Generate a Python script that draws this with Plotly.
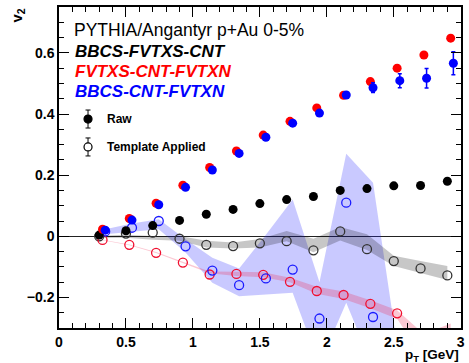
import plotly.graph_objects as go

# ---------------- data ----------------
pt = [0.3, 0.5, 0.7, 0.9, 1.1, 1.3, 1.5, 1.7, 1.9, 2.1, 2.3, 2.5, 2.7, 2.9]
x_tick_vals = [0, 0.5, 1, 1.5, 2, 2.5, 3]
x_tick_text = ["0", "0.5", "1", "1.5", "2", "2.5", "3"]

raw_black = [0.004, 0.018, 0.035, 0.052, 0.072, 0.088, 0.107, 0.120, 0.130, 0.150, 0.156, 0.165, 0.166, 0.180]
raw_red = [0.023, 0.058, 0.108, 0.167, 0.225, 0.279, 0.331, 0.376, 0.420, 0.461, 0.506, 0.550, 0.593, 0.648]
raw_blue = [0.020, 0.053, 0.103, 0.160, 0.217, 0.271, 0.324, 0.370, 0.403, 0.462, 0.486, 0.509, 0.517, 0.566]
raw_blue_err = [0.003, 0.003, 0.004, 0.004, 0.005, 0.005, 0.006, 0.007, 0.008, 0.010, 0.016, 0.023, 0.032, 0.038]

tmpl_black = [0.0, 0.009, 0.012, -0.008, -0.028, -0.032, -0.023, -0.016, -0.046, 0.016, -0.042, -0.081, -0.105, -0.128]
tmpl_red = [-0.012, -0.028, -0.054, -0.086, -0.125, -0.123, -0.126, -0.149, -0.179, -0.192, -0.221, -0.252, -0.36, -0.34]
tmpl_blue = [0.016, 0.028, 0.050, -0.033, -0.112, -0.160, -0.138, -0.109, -0.269, 0.110, -0.264]

gray_lo = [-0.006, -0.005, -0.011, -0.015, -0.037, -0.040, -0.037, -0.016, -0.052, -0.014, -0.045, -0.097, -0.119, -0.143]
gray_hi = [0.002, 0.005, 0.001, 0.001, -0.015, -0.020, -0.009, 0.017, -0.008, 0.030, 0.007, -0.064, -0.081, -0.097]

red_lo = [-0.013, -0.029, -0.055, -0.088, -0.121, -0.130, -0.134, -0.150, -0.188, -0.205, -0.235, -0.270, -0.40, -0.375]
red_hi = [-0.011, -0.027, -0.051, -0.084, -0.115, -0.116, -0.118, -0.136, -0.165, -0.181, -0.209, -0.242, -0.32, -0.285]

blue_hi = [0.023, 0.042, 0.056, -0.010, -0.070, -0.105, 0.005, 0.120, -0.150, 0.270, 0.175, -0.415]
blue_lo = [0.007, 0.014, 0.023, -0.053, -0.152, -0.196, -0.190, -0.185, -0.420, -0.217, -0.430, -0.600]

title_lines = ["PYTHIA/Angantyr p+Au 0-5%", "BBCS-FVTXS-CNT", "FVTXS-CNT-FVTXN", "BBCS-CNT-FVTXN"]
legend_labels = ["Raw", "Template Applied"]

# ---------------- style ----------------
OFF_RED = 0.025
OFF_BLUE = 0.045
FONT = "Liberation Sans, Arial, sans-serif"

x_black = list(pt)
x_red = [p + OFF_RED for p in pt]
x_blue = [p + OFF_BLUE for p in pt]

fig = go.Figure()


def band(xs, lo, hi, color):
    n = min(len(xs), len(lo))
    xs = xs[:n]
    return go.Scatter(x=xs + xs[::-1], y=list(hi[:n]) + list(lo[:n])[::-1],
                      fill="toself", fillcolor=color, line=dict(width=0),
                      mode="lines", hoverinfo="skip", showlegend=False)


fig.add_trace(band(x_blue, blue_lo, blue_hi, "rgba(40,40,255,0.25)"))
fig.add_trace(band(x_black, gray_lo, gray_hi, "rgba(0,0,0,0.22)"))
fig.add_trace(band(x_red, red_lo, red_hi, "rgba(240,40,80,0.26)"))

MS = 9
fig.add_trace(go.Scatter(x=x_black, y=tmpl_black, mode="markers",
                         marker=dict(symbol="circle-open", size=MS, color="#333333", line=dict(width=1.3)),
                         showlegend=False))
fig.add_trace(go.Scatter(x=x_red, y=tmpl_red, mode="markers",
                         marker=dict(symbol="circle-open", size=MS, color="#f01030", line=dict(width=1.3)),
                         showlegend=False))
fig.add_trace(go.Scatter(x=x_blue[:len(tmpl_blue)], y=tmpl_blue, mode="markers",
                         marker=dict(symbol="circle-open", size=MS, color="#1a1aff", line=dict(width=1.3)),
                         showlegend=False))

fig.add_trace(go.Scatter(x=x_black, y=raw_black, mode="markers",
                         marker=dict(symbol="circle", size=MS, color="black"), showlegend=False))
fig.add_trace(go.Scatter(x=x_red, y=raw_red, mode="markers",
                         marker=dict(symbol="circle", size=MS, color="#ff0000"), showlegend=False))
fig.add_trace(go.Scatter(x=x_blue, y=raw_blue, mode="markers",
                         marker=dict(symbol="circle", size=MS, color="#0000ff"),
                         error_y=dict(type="data", array=raw_blue_err, color="#0000ff", thickness=1.5, width=2),
                         showlegend=False))

# ---------------- axes ----------------
fig.update_xaxes(range=[0, 3.002], tickmode="array", tickvals=x_tick_vals, ticktext=x_tick_text,
                 ticks="inside", ticklen=10, tickwidth=1,
                 tickcolor="black", mirror="allticks", showline=True, linewidth=1.5, linecolor="black",
                 showgrid=False, zeroline=False, ticklabeloverflow="allow",
                 tickfont=dict(family=FONT, size=14, color="black", weight="bold"),
                 minor=dict(tickmode="linear", tick0=0, dtick=0.1, ticklen=5, ticks="inside",
                            tickcolor="black", showgrid=False))
fig.update_yaxes(range=[-0.3, 0.75], dtick=0.2, tick0=0, ticks="inside", ticklen=10, tickwidth=1,
                 tickcolor="black", mirror="allticks", showline=True, linewidth=1.5, linecolor="black",
                 showgrid=False, zeroline=True, zerolinecolor="#222222", zerolinewidth=1.3,
                 tickfont=dict(family=FONT, size=14, color="black", weight="bold"),
                 minor=dict(dtick=0.05, ticklen=5, ticks="inside", tickcolor="black", showgrid=False))

# ---------------- text ----------------
ann = []
ann.append(dict(text=title_lines[0], x=0.032, y=0.928, xref="paper", yref="paper", xanchor="left",
                yanchor="middle", showarrow=False, font=dict(family=FONT, size=17.5, color="black")))
for txt, col, yy in [(title_lines[1], "black", 0.860), (title_lines[2], "#ff0000", 0.798),
                     (title_lines[3], "#0000ff", 0.738)]:
    ann.append(dict(text="<b><i>" + txt + "</i></b>", x=0.034, y=yy, xref="paper", yref="paper",
                    xanchor="left", yanchor="middle", showarrow=False,
                    font=dict(family=FONT, size=17, color=col)))
for txt, yy in [(legend_labels[0], 0.651), (legend_labels[1], 0.564)]:
    ann.append(dict(text="<b>" + txt + "</b>", x=0.115, y=yy, xref="paper", yref="paper",
                    xanchor="left", yanchor="middle", showarrow=False,
                    font=dict(family=FONT, size=12, color="black")))
ann.append(dict(text="<b>v<sub>2</sub></b>", x=-0.103, y=0.972, xref="paper", yref="paper",
                xanchor="center", yanchor="middle", textangle=-90, showarrow=False,
                font=dict(family=FONT, size=15, color="black")))
ann.append(dict(text="<b>p<sub>T</sub> [GeV]</b>", x=1.0, y=-0.054, xref="paper", yref="paper",
                xanchor="right", yanchor="top", showarrow=False,
                font=dict(family=FONT, size=13.5, color="black")))

# legend markers (decoration, paper-anchored)
shapes = []
LX = 0.0722
for yy, filled in [(0.651, True), (0.564, False)]:
    shapes.append(dict(type="line", xref="paper", yref="paper", xsizemode="pixel", ysizemode="pixel",
                       xanchor=LX, yanchor=yy, x0=0, x1=0, y0=-9, y1=9,
                       line=dict(color="black", width=1)))
    for cy in (-9, 9):
        shapes.append(dict(type="line", xref="paper", yref="paper", xsizemode="pixel", ysizemode="pixel",
                           xanchor=LX, yanchor=yy, x0=-2.5, x1=2.5, y0=cy, y1=cy,
                           line=dict(color="black", width=1)))
    shapes.append(dict(type="circle", xref="paper", yref="paper", xsizemode="pixel", ysizemode="pixel",
                       xanchor=LX, yanchor=yy, x0=-4, x1=4, y0=-4, y1=4,
                       fillcolor="black" if filled else "white", line=dict(color="black", width=1.2)))

fig.update_layout(width=469, height=363, margin=dict(l=59, r=4, t=7, b=35),
                  paper_bgcolor="white", plot_bgcolor="white", showlegend=False,
                  annotations=ann, shapes=shapes, font=dict(family=FONT))

# remove the default page margin so the 469x363 figure fills the window exactly
fig.write_html("out.html", config={"displayModeBar": False},
               post_script="document.body.style.margin='0';document.body.style.overflow='hidden';")
